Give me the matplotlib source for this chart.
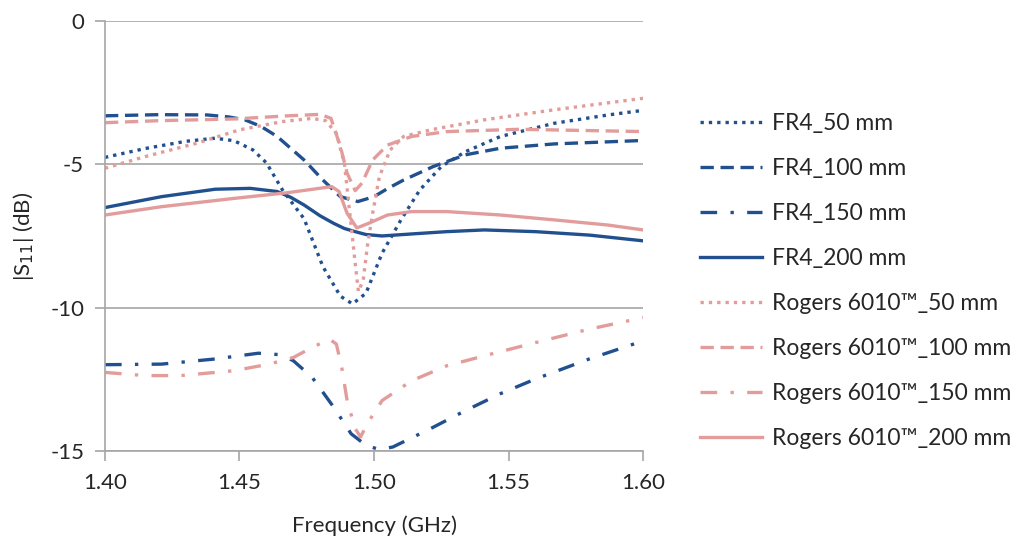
import numpy as np
import matplotlib.pyplot as plt

plt.rcParams['font.family'] = ['Lato', 'DejaVu Sans']

BLUE = '#22508f'
PINK = '#e39c9c'

# FR4 curves
fr4_50_f = [1.400, 1.415, 1.430, 1.441, 1.448, 1.455, 1.460, 1.466, 1.474, 1.481, 1.4875, 1.492,
            1.497, 1.503, 1.510, 1.517, 1.525, 1.534, 1.547, 1.567, 1.587, 1.600]
fr4_50_s = [-4.76, -4.45, -4.20, -4.09, -4.18, -4.50, -4.95, -5.9, -6.9, -8.57, -9.6, -9.87,
            -9.5, -8.1, -6.94, -5.9, -5.08, -4.56, -4.03, -3.57, -3.28, -3.12]

fr4_100_f = [1.400, 1.420, 1.438, 1.446, 1.452, 1.458, 1.464, 1.474, 1.481, 1.4875, 1.494, 1.500,
             1.505, 1.511, 1.522, 1.534, 1.547, 1.567, 1.600]
fr4_100_s = [-3.31, -3.27, -3.28, -3.35, -3.45, -3.68, -4.03, -4.85, -5.55, -6.13, -6.30, -6.13,
             -5.85, -5.55, -5.08, -4.67, -4.44, -4.29, -4.17]

fr4_150_f = [1.400, 1.421, 1.441, 1.457, 1.465, 1.470, 1.477, 1.485, 1.4915, 1.497,
             1.502, 1.507, 1.521, 1.534, 1.547, 1.560, 1.580, 1.600]
fr4_150_s = [-11.99, -11.97, -11.79, -11.59, -11.64, -11.85, -12.43, -13.47, -14.40, -14.80,
             -14.95, -14.86, -14.22, -13.59, -13.00, -12.49, -11.79, -11.16]

fr4_200_f = [1.400, 1.421, 1.441, 1.454, 1.464, 1.469, 1.474, 1.480, 1.485, 1.489, 1.493,
             1.497, 1.503, 1.514, 1.527, 1.541, 1.560, 1.580, 1.600]
fr4_200_s = [-6.51, -6.13, -5.87, -5.84, -5.95, -6.15, -6.42, -6.80, -7.06, -7.24, -7.35,
             -7.45, -7.50, -7.43, -7.35, -7.29, -7.35, -7.47, -7.67]

# Rogers 6010 curves
rog_50_f = [1.400, 1.415, 1.434, 1.450, 1.466, 1.477, 1.482, 1.486, 1.489, 1.491, 1.493,
            1.4942, 1.496, 1.4975, 1.4995, 1.502, 1.506, 1.511, 1.521, 1.541, 1.567, 1.600]
rog_50_s = [-5.14, -4.73, -4.27, -3.80, -3.51, -3.40, -3.48, -3.92, -4.97, -6.71, -8.45,
            -9.44, -9.03, -7.87, -6.71, -5.43, -4.50, -4.03, -3.80, -3.45, -3.10, -2.70]

rog_100_f = [1.400, 1.420, 1.448, 1.468, 1.480, 1.484, 1.4875, 1.490, 1.493, 1.4955,
             1.4995, 1.505, 1.514, 1.527, 1.554, 1.600]
rog_100_s = [-3.55, -3.48, -3.42, -3.31, -3.26, -3.40, -4.38, -5.31, -5.92, -5.66,
             -4.85, -4.33, -4.03, -3.86, -3.78, -3.86]

rog_150_f = [1.400, 1.415, 1.428, 1.448, 1.461, 1.470, 1.477, 1.4835, 1.486, 1.488,
             1.490, 1.493, 1.495, 1.4975, 1.503, 1.514, 1.527, 1.541, 1.560, 1.580, 1.600]
rog_150_s = [-12.26, -12.37, -12.37, -12.20, -11.97, -11.74, -11.39, -11.10, -11.27, -12.08,
             -13.24, -14.22, -14.51, -14.05, -13.24, -12.55, -12.03, -11.68, -11.22, -10.75, -10.35]

rog_200_f = [1.400, 1.421, 1.448, 1.468, 1.4843, 1.487, 1.490, 1.4936, 1.498, 1.505,
             1.514, 1.527, 1.547, 1.567, 1.587, 1.600]
rog_200_s = [-6.77, -6.48, -6.19, -5.99, -5.78, -5.95, -6.71, -7.22, -7.06, -6.77,
             -6.65, -6.65, -6.77, -6.94, -7.12, -7.29]

fig = plt.figure(figsize=(10.24, 5.5), dpi=100)
ax = fig.add_axes([0.1025, 0.18, 0.5255, 0.782])

dot = (0, (1, 1.5))
dash = (0, (4, 2))
dashdot = (0, (5, 4, 1, 4))
lw = 2.4

ax.plot(fr4_50_f, fr4_50_s, color=BLUE, lw=lw, ls=dot, label='FR4_50 mm')
ax.plot(fr4_100_f, fr4_100_s, color=BLUE, lw=lw, ls=dash, label='FR4_100 mm')
ax.plot(fr4_150_f, fr4_150_s, color=BLUE, lw=lw, ls=dashdot, label='FR4_150 mm')
ax.plot(fr4_200_f, fr4_200_s, color=BLUE, lw=lw, ls='-', label='FR4_200 mm')
ax.plot(rog_50_f, rog_50_s, color=PINK, lw=lw, ls=dot, label='Rogers 6010™_50 mm')
ax.plot(rog_100_f, rog_100_s, color=PINK, lw=lw, ls=dash, label='Rogers 6010™_100 mm')
ax.plot(rog_150_f, rog_150_s, color=PINK, lw=lw, ls=dashdot, label='Rogers 6010™_150 mm')
ax.plot(rog_200_f, rog_200_s, color=PINK, lw=lw, ls='-', label='Rogers 6010™_200 mm')

ax.set_xlim(1.40, 1.60)
ax.set_ylim(-15, 0)
ax.set_xticks([1.40, 1.45, 1.50, 1.55, 1.60])
ax.set_xticklabels(['1.40', '1.45', '1.50', '1.55', '1.60'])
ax.set_yticks([0, -5, -10, -15])
ax.set_yticklabels(['0', '-5', '-10', '-15'])
ax.grid(axis='y', color='#a6a6a6', lw=1.2)
ax.set_axisbelow(True)
for s in ['top', 'right']:
    ax.spines[s].set_visible(False)
for s in ['left', 'bottom']:
    ax.spines[s].set_color('#a6a6a6')
    ax.spines[s].set_linewidth(1.2)
ax.tick_params(axis='both', colors='#a6a6a6', labelcolor='#262626', labelsize=16,
               length=7, width=1.2, direction='out')
ax.tick_params(axis='x', pad=9)
ax.tick_params(axis='y', pad=8)

ax.set_xlabel('Frequency (GHz)', fontsize=16, color='#262626', labelpad=16)
ax.set_ylabel('|S$_{11}$| (dB)', fontsize=16, color='#262626', labelpad=10)

ax.legend(loc='center left', bbox_to_anchor=(1.067, 0.395), frameon=False, fontsize=16.5,
          handlelength=2.7, handletextpad=0.45, labelspacing=1.05, labelcolor='#262626')

fig.savefig('out.png', dpi=100)
